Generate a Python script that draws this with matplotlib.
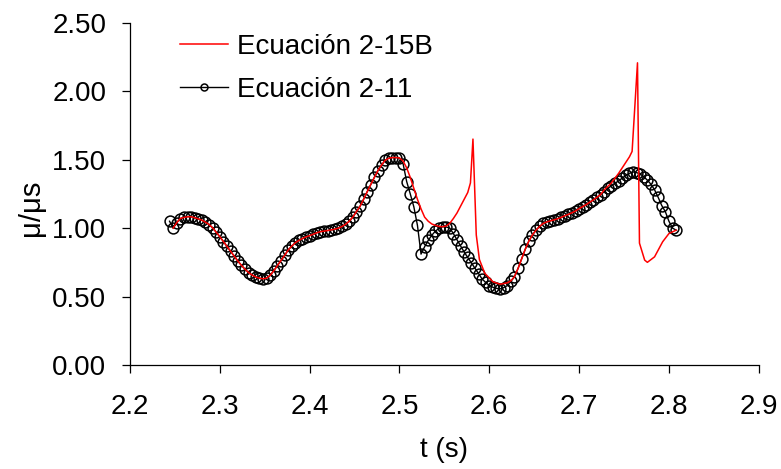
import numpy as np
import matplotlib
matplotlib.use("Agg")
import matplotlib.pyplot as plt

plt.rcParams['font.family'] = ['Liberation Sans', 'DejaVu Sans']

# Ecuación 2-11: sampled every 0.004 s starting at 2.244 s
t_inicio = 2.244
dt = 0.004
mu_211 = [
    1.05, 1.00, 1.04, 1.07, 1.078, 1.083, 1.083, 1.076, 1.067, 1.058,
    1.043, 1.026, 1.002, 0.97, 0.937, 0.902, 0.866, 0.83, 0.795, 0.76,
    0.728, 0.70, 0.675, 0.657, 0.643, 0.634, 0.630, 0.634, 0.655, 0.688,
    0.725, 0.763, 0.80, 0.839, 0.868, 0.893, 0.91, 0.924, 0.936, 0.945,
    0.955, 0.966, 0.974, 0.978, 0.982, 0.987, 0.992, 1.0, 1.012, 1.028,
    1.05, 1.08, 1.12, 1.158, 1.21, 1.265, 1.318, 1.37, 1.42, 1.46,
    1.495, 1.51, 1.515, 1.515, 1.512, 1.47, 1.34, 1.25, 1.155, 1.02,
    0.81, 0.864, 0.91, 0.948, 0.978, 0.998, 1.01, 1.008, 1.0, 0.96,
    0.915, 0.87, 0.825, 0.786, 0.748, 0.708, 0.668, 0.628, 0.603, 0.58,
    0.568, 0.56, 0.556, 0.565, 0.58, 0.61, 0.645, 0.705, 0.775, 0.845,
    0.905, 0.95, 0.985, 1.012, 1.034, 1.045, 1.053, 1.06, 1.068, 1.078,
    1.09, 1.10, 1.112, 1.125, 1.142, 1.157, 1.172, 1.19, 1.206, 1.225,
    1.245, 1.266, 1.29, 1.31, 1.328, 1.345, 1.365, 1.385, 1.40, 1.41,
    1.405, 1.395, 1.375, 1.35, 1.32, 1.28, 1.225, 1.165, 1.12, 1.05,
    1.00, 0.985,
]
t_211 = np.round(t_inicio + dt * np.arange(len(mu_211)), 3)

# Ecuación 2-15B: where it departs from 2-11
t_15b_a = [2.504, 2.508, 2.512, 2.516, 2.520, 2.524, 2.528, 2.532, 2.536, 2.540,
           2.544, 2.548, 2.552, 2.556, 2.560, 2.564, 2.568, 2.572, 2.576, 2.579,
           2.5818, 2.5855, 2.589, 2.595, 2.604, 2.612, 2.620, 2.624]
mu_15b_a = [1.49, 1.44, 1.37, 1.29, 1.21, 1.14, 1.08, 1.05, 1.03, 1.02,
            1.012, 1.01, 1.015, 1.035, 1.07, 1.11, 1.16, 1.21, 1.26, 1.33,
            1.65, 0.95, 0.77, 0.67, 0.608, 0.59, 0.60, 0.615]
t_15b_b = [2.728, 2.736, 2.744, 2.750, 2.756, 2.759, 2.7650, 2.7672, 2.773, 2.776,
           2.784, 2.793, 2.800, 2.808]
mu_15b_b = [1.28, 1.33, 1.40, 1.46, 1.52, 1.56, 2.207, 0.89, 0.766, 0.75,
            0.79, 0.90, 0.96, 0.985]

mu_211 = np.array(mu_211)
m1 = (t_211 >= 2.248) & (t_211 <= 2.500)
m2 = (t_211 >= 2.628) & (t_211 <= 2.724)
t_15b = np.concatenate([t_211[m1], t_15b_a, t_211[m2], t_15b_b])
mu_15b = np.concatenate([mu_211[m1], mu_15b_a, mu_211[m2], mu_15b_b])

fig = plt.figure(figsize=(7.81, 4.69), dpi=100)
ax = fig.add_axes([0.1665, 0.2217, 0.805, 0.7299])

ax.plot(t_211, mu_211, color='black', lw=1.0, marker='o', ms=7.8,
        mfc='none', mec='black', mew=1.1, label='Ecuación 2-11', zorder=2)
ax.plot(t_15b, mu_15b, color='red', lw=1.1, label='Ecuación 2-15B', zorder=3)

ax.set_xlim(2.2, 2.9)
ax.set_ylim(0, 2.5)
ax.set_xticks(np.arange(2.2, 2.91, 0.1))
ax.set_xticklabels([f"{v:.1f}" for v in np.arange(2.2, 2.91, 0.1)])
ax.set_yticks(np.arange(0, 2.51, 0.5))
ax.set_yticklabels([f"{v:.2f}" for v in np.arange(0, 2.51, 0.5)])

for s in ['top', 'right']:
    ax.spines[s].set_visible(False)
for s in ['left', 'bottom']:
    ax.spines[s].set_linewidth(0.9)
ax.tick_params(direction='out', length=6, width=0.9, labelsize=20)
ax.tick_params(axis='x', pad=15)
ax.tick_params(axis='y', pad=11)

ax.set_xlabel('t (s)', fontsize=20)
ax.set_ylabel('μ/μs', fontsize=21)
ax.xaxis.set_label_coords(0.5, -0.21)
ax.yaxis.set_label_coords(-0.135, 0.46)

h, l = ax.get_legend_handles_labels()
leg = ax.legend(h[::-1], l[::-1], loc='upper left', bbox_to_anchor=(0.0795, 0.967),
                frameon=False, fontsize=20, handlelength=1.73, handletextpad=0.32,
                labelspacing=0.6, borderpad=0, borderaxespad=0)
leg.legend_handles[1].set_markersize(5)

fig.savefig('out.png', dpi=100)
